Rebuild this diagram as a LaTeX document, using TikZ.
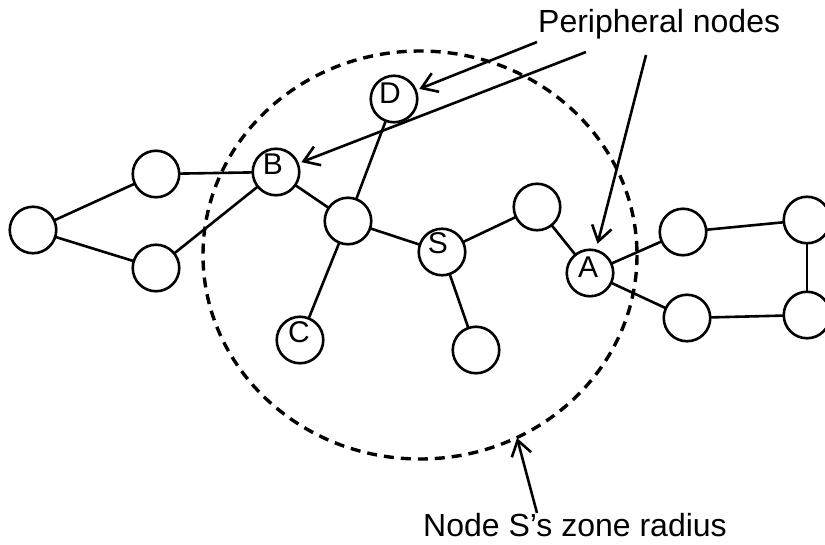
\documentclass[tikz,border=0pt]{standalone}
\usepackage{fontspec}
\setmainfont{Liberation Sans}
\usetikzlibrary{arrows.meta}
\begin{document}
\begin{tikzpicture}[x=1pt,y=-1pt,
  vtx/.style={circle,draw,line width=2.6pt,minimum size=46.5pt,inner sep=0pt,outer sep=0pt},
  vlabel/.style={font=\fontsize{30}{30}\selectfont,inner sep=0pt},
  edge/.style={line width=2.6pt},
  callout/.style={line width=2.6pt,shorten >=4pt,-{Straight Barb[length=15pt,width=20pt,line width=2.6pt]}},
  zone/.style={line width=3.4pt,dash pattern=on 10pt off 7pt},
  caption/.style={font=\fontsize{32}{32}\selectfont,inner sep=0pt,anchor=base west}]
\clip (0,0) rectangle (825,544);

% zone of node S
\draw[zone] (420,255) ellipse [x radius=217, y radius=204];

% network nodes
\node[vtx] (L)  at (33,230)  {};
\node[vtx] (U1) at (156,174) {};
\node[vtx] (U2) at (156,268) {};
\node[vtx] (B)  at (276,172) {};
\node[vtx] (D)  at (394,99)  {};
\node[vtx] (M)  at (348,221) {};
\node[vtx] (S)  at (442,252) {};
\node[vtx] (N1) at (537,207) {};
\node[vtx] (A)  at (590,273) {};
\node[vtx] (R1) at (683,232) {};
\node[vtx] (R2) at (687,318) {};
\node[vtx] (R3) at (807,220) {};
\node[vtx] (R4) at (807,315) {};
\node[vtx] (C)  at (300,340) {};
\node[vtx] (N2) at (476,350) {};

% node letters
\node[vlabel] (Bt) at (273,164) {B};
\node[vlabel] (Dt) at (390,93)  {D};
\node[vlabel] (St) at (438,243) {S};
\node[vlabel] (At) at (588,267) {A};
\node[vlabel] (Ct) at (299,332) {C};

% links
\draw[edge] (L) -- (U1);
\draw[edge] (L) -- (U2);
\draw[edge] (U1) -- (B);
\draw[edge] (U2) -- (B);
\draw[edge] (B) -- (M);
\draw[edge] (D) -- (M);
\draw[edge] (M) -- (C);
\draw[edge] (M) -- (S);
\draw[edge] (S) -- (N1);
\draw[edge] (N1) -- (A);
\draw[edge] (S) -- (N2);
\draw[edge] (A) -- (R1);
\draw[edge] (A) -- (R2);
\draw[edge] (R1) -- (R3);
\draw[edge] (R2) -- (R4);
\draw[edge] (R3) -- (R4);

% captions and call-outs
\node[caption] (per) at (538,32) {Peripheral nodes};
\node[caption] (zr) at (423,536) {Node S’s zone radius};
\coordinate (p1) at (537,42);
\coordinate (p2) at (586,52);
\coordinate (p3) at (646,55);
\coordinate (z0) at (537,513);
\coordinate (zt) at (517,438);
\draw[callout] (p1) -- (D);
\draw[callout] (p2) -- (B);
\draw[callout,shorten >=7pt] (p3) -- (A);
\draw[callout,shorten >=0pt] (z0) -- (zt);
\end{tikzpicture}
\end{document}
